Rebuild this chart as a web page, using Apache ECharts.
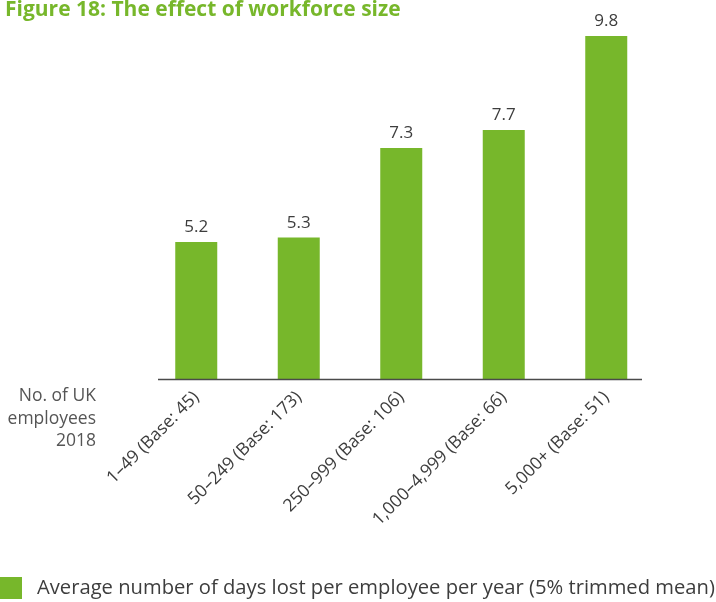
<!DOCTYPE html>
<html>
<head>
<meta charset="utf-8">
<script src="https://cdn.jsdelivr.net/npm/echarts@6/dist/echarts.min.js"></script>
<style>
  html, body { margin: 0; padding: 0; background: #fff; }
  #chart { width: 716px; height: 602px; }
</style>
</head>
<body>
<div id="chart"></div>
<script>
// Workforce size bands and average days lost per employee
const categories = [
  '1–49 (Base: 45)',
  '50–249 (Base: 173)',
  '250–999 (Base: 106)',
  '1,000–4,999 (Base: 66)',
  '5,000+ (Base: 51)'
];
const daysLost = [5.2, 5.3, 7.3, 7.7, 9.8];
const seriesName = 'Average number of days lost per employee per year (5% trimmed mean)';
const titleText = 'Figure 18: The effect of workforce size';
const axisCaption = 'No. of UK\nemployees\n2018';

const GREEN = '#77b72b';
const TEXT = '#3d3d3d';
const FONT = '"Open Sans", sans-serif';

const chart = echarts.init(document.getElementById('chart'), null, { renderer: 'canvas' });

chart.setOption({
  animation: false,
  title: {
    text: titleText,
    left: 0,
    top: -5.5,
    textStyle: { color: GREEN, fontFamily: FONT, fontWeight: 'bold', fontSize: 21 }
  },
  legend: {
    left: 0,
    top: 577,
    padding: 0,
    itemWidth: 22,
    itemHeight: 22,
    icon: 'rect',
    data: [seriesName],
    textStyle: { color: TEXT, fontFamily: FONT, fontSize: 20.2, padding: [0, 0, 0, 10] }
  },
  grid: { left: 145, right: 58.5, top: 27.1, bottom: 222.5, containLabel: false },
  xAxis: {
    type: 'category',
    data: categories,
    axisLine: { show: false },
    axisTick: { show: false },
    axisLabel: {
      rotate: 45,
      margin: 15,
      interval: 0,
      color: TEXT,
      fontFamily: FONT,
      fontSize: 17.5
    }
  },
  yAxis: {
    type: 'value',
    min: 2.13,
    max: 10,
    show: false,
    splitLine: { show: false }
  },
  series: [{
    name: seriesName,
    type: 'bar',
    data: daysLost,
    barWidth: 42,
    itemStyle: { color: GREEN },
    label: {
      show: true,
      position: 'top',
      distance: 6,
      color: TEXT,
      fontFamily: FONT,
      fontSize: 17
    }
  }],
  graphic: [
    {
      type: 'line',
      shape: { x1: 158, y1: 379.5, x2: 642, y2: 379.5 },
      style: { stroke: '#4a4a4a', lineWidth: 1.5 },
      z: 10
    },
    {
      type: 'text',
      x: 96,
      y: 385,
      style: {
        text: axisCaption,
        fill: '#555',
        font: '17.5px ' + FONT,
        align: 'right',
        verticalAlign: 'top',
        lineHeight: 22.5
      }
    }
  ]
});
</script>
</body>
</html>
